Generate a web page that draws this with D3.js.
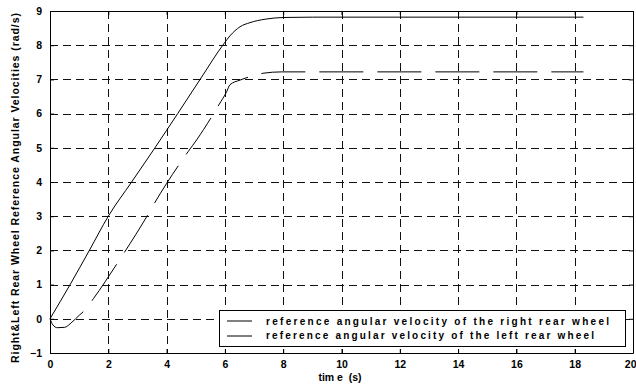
<!DOCTYPE html>
<html>
<head>
<meta charset="utf-8">
<script src="https://cdn.jsdelivr.net/npm/d3@7"></script>
<style>
  body { margin: 0; background: #fff; }
  text { font-family: "Liberation Sans", Arial, sans-serif; font-weight: bold; }
</style>
</head>
<body>
<script>
// data
let rightT = [0, 0.69, 1.35, 2.0, 2.8, 3.6, 4.38, 5.15, 5.97, 6.17, 6.52, 6.86, 7.38, 8.0, 9.0, 18.3];
let rightW = [0, 1, 2, 3, 4, 5, 6, 7, 8.05, 8.27, 8.54, 8.66, 8.76, 8.81, 8.82, 8.82];

let leftT = [0, 0.1, 0.25, 0.5, 0.75, 1.0, 1.18, 1.49, 2.29, 2.55, 3.32, 3.57, 4.74, 5.03, 5.81, 6.06, 6.17, 6.52, 6.86, 7.31, 7.95, 18.3];
let leftW = [0, -0.18, -0.26, -0.25, -0.1, 0.1, 0.24, 0.59, 1.6, 1.94, 2.99, 3.36, 4.89, 5.23, 6.28, 6.64, 6.84, 6.98, 7.08, 7.18, 7.22, 7.22];

let xTicks = [0, 2, 4, 6, 8, 10, 12, 14, 16, 18, 20];
let yTicks = [-1, 0, 1, 2, 3, 4, 5, 6, 7, 8, 9];

let legendLabels = [
  'reference angular velocity of the right rear wheel',
  'reference angular velocity of the left rear wheel'
];

// svg size
let width = 636;
let height = 387;
let margin = {left: 50, top: 11, right: 3, bottom: 34};

let svg = d3.select('body')
  .append('svg')
  .attr('width', width)
  .attr('height', height);

let x = d3.scaleLinear().domain([0, 20]).range([margin.left, width - margin.right]);
let y = d3.scaleLinear().domain([-1, 9]).range([height - margin.bottom, margin.top]);

// grid
svg.append('g')
  .selectAll('line')
  .data(xTicks.slice(1, -1))
  .enter()
  .append('line')
  .attr('x1', d => Math.round(x(d)) + 0.5)
  .attr('x2', d => Math.round(x(d)) + 0.5)
  .attr('y1', y(9))
  .attr('y2', y(-1))
  .attr('stroke', '#111')
  .attr('stroke-dasharray', '8,5');

svg.append('g')
  .selectAll('line')
  .data(yTicks.slice(1, -1))
  .enter()
  .append('line')
  .attr('y1', d => Math.round(y(d)) + 0.5)
  .attr('y2', d => Math.round(y(d)) + 0.5)
  .attr('x1', x(0))
  .attr('x2', x(20))
  .attr('stroke', '#111')
  .attr('stroke-dasharray', '8,5');

// axes with inward ticks
let axB = svg.append('g')
  .attr('transform', 'translate(0,' + y(-1) + ')')
  .call(d3.axisBottom(x).tickValues(xTicks).tickSizeInner(-4).tickSizeOuter(0).tickPadding(8));
let axT = svg.append('g')
  .attr('transform', 'translate(0,' + y(9) + ')')
  .call(d3.axisTop(x).tickValues(xTicks).tickSizeInner(-4).tickSizeOuter(0).tickFormat(''));
let axL = svg.append('g')
  .attr('transform', 'translate(' + x(0) + ',0)')
  .call(d3.axisLeft(y).tickValues(yTicks).tickSizeInner(-4).tickSizeOuter(0).tickPadding(8));
let axR = svg.append('g')
  .attr('transform', 'translate(' + x(20) + ',0)')
  .call(d3.axisRight(y).tickValues(yTicks).tickSizeInner(-4).tickSizeOuter(0).tickFormat(''));

[axB, axT, axL, axR].forEach(a => {
  a.selectAll('path, line').attr('stroke', '#000');
  a.selectAll('text')
    .attr('fill', '#000')
    .attr('font-size', '10.5px')
    .attr('font-family', '"Liberation Sans", Arial, sans-serif')
    .attr('font-weight', 'bold');
});

// keep the last x label inside the window
axB.selectAll('.tick text')
  .filter(d => d === 20)
  .attr('text-anchor', 'end')
  .attr('dx', 3);

// curves
let line = d3.line()
  .x(d => x(d[0]))
  .y(d => y(d[1]))
  .curve(d3.curveMonotoneX);

svg.append('path')
  .datum(d3.zip(rightT, rightW))
  .attr('fill', 'none')
  .attr('stroke', '#000')
  .attr('stroke-width', 1)
  .attr('d', line);

svg.append('path')
  .datum(d3.zip(leftT, leftW))
  .attr('fill', 'none')
  .attr('stroke', '#000')
  .attr('stroke-width', 1)
  .attr('stroke-dasharray', '44,14')
  .attr('d', line);

// legend
let lg = svg.append('g');
lg.append('rect')
  .attr('x', 219.5)
  .attr('y', 310.5)
  .attr('width', 406)
  .attr('height', 36)
  .attr('fill', '#fff')
  .attr('stroke', '#000');

lg.selectAll('line')
  .data(legendLabels)
  .enter()
  .append('line')
  .attr('x1', 227)
  .attr('x2', 252)
  .attr('y1', (d, i) => 321 + i * 15)
  .attr('y2', (d, i) => 321 + i * 15)
  .attr('stroke', '#000');

lg.selectAll('text')
  .data(legendLabels)
  .enter()
  .append('text')
  .attr('x', 266)
  .attr('y', (d, i) => 324.5 + i * 14.5)
  .attr('font-size', '10px')
  .attr('textLength', (d, i) => i === 0 ? 343 : 328)
  .attr('lengthAdjust', 'spacing')
  .text(d => d);

// axis titles
svg.append('text')
  .attr('x', 340)
  .attr('y', 381)
  .attr('text-anchor', 'middle')
  .attr('font-size', '10.5px')
  .attr('xml:space', 'preserve')
  .text('tim e  (s)');

svg.append('text')
  .attr('transform', 'translate(19,188) rotate(-90)')
  .attr('text-anchor', 'middle')
  .attr('font-size', '10.5px')
  .attr('textLength', 350)
  .attr('lengthAdjust', 'spacing')
  .text('Right&Left Rear Wheel Reference Angular Velocities (rad/s)');
</script>
</body>
</html>
